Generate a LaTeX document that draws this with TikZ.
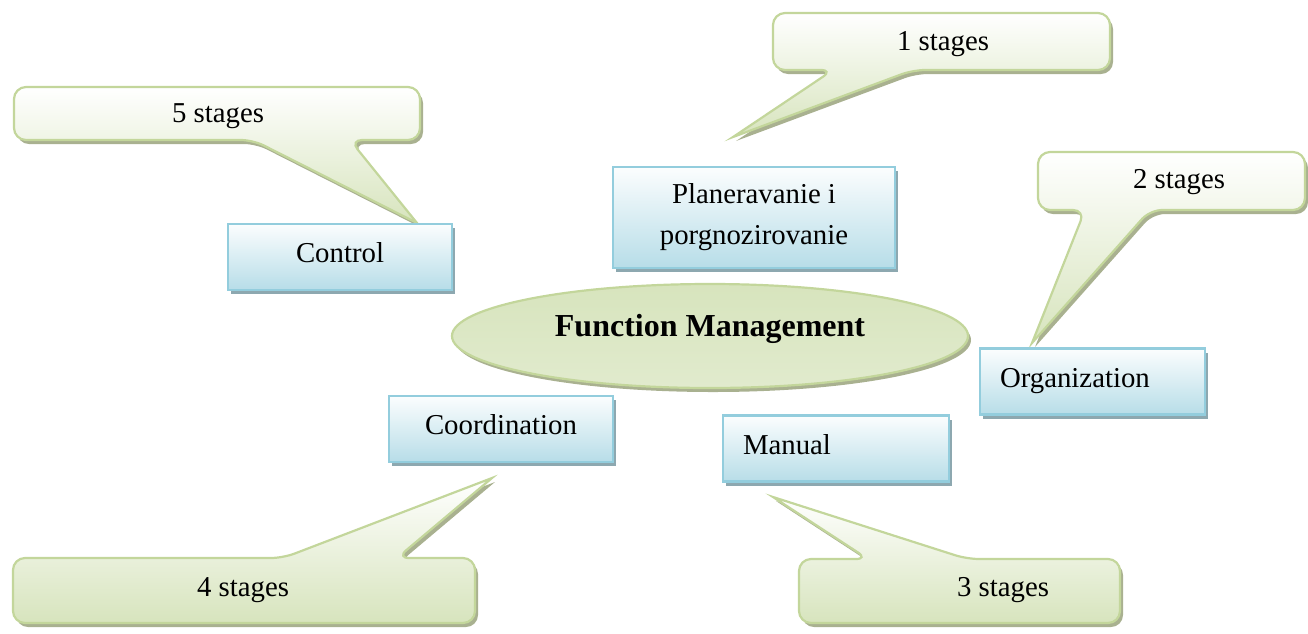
\documentclass[tikz,border=0pt]{standalone}
\usepackage{fontspec}
\setmainfont{Liberation Serif}
\usetikzlibrary{shapes.geometric,shadows}

\definecolor{callline}{HTML}{C3D69B}
\definecolor{callfill}{HTML}{D7E4BD}
\definecolor{callshadow}{HTML}{A9B190}
\definecolor{boxline}{HTML}{93CDDD}
\definecolor{boxfill}{HTML}{B7DDE8}
\definecolor{boxshadow}{HTML}{8DA8B0}

\begin{document}
\begin{tikzpicture}[
            x=1pt,y=-1pt,
            every node/.style={font=\fontsize{28.8}{41}\selectfont},
            callout/.style={draw=callline,line width=2.2pt,top color=white,bottom color=callfill,
                drop shadow={shadow xshift=3pt,shadow yshift=-4pt,fill=callshadow,opacity=1}},
            stage/.style={inner sep=0pt},
            fnbox/.style={draw=boxline,line width=2.2pt,top color=white!95!boxfill,bottom color=boxfill,
                minimum height=66pt,text height=20pt,text depth=9pt,
                drop shadow={shadow xshift=3pt,shadow yshift=-4pt,fill=boxshadow,opacity=1}},
            fnboxl/.style={fnbox,align=left,text width=185pt,inner xsep=20pt}
            ]
            \useasboundingbox (0,0) rectangle (1308,633);
            % callouts
            \draw[callout] (417,223) [rounded corners=12pt] -- (350,140) -- (420,140) -- (420,87) -- (14,87) -- (14,140) -- (253,140) [sharp corners] -- cycle;
            \draw[callout] (733,137) [rounded corners=12pt] -- (913,70) -- (1110,70) -- (1110,13) -- (773,13) -- (773,70) -- (833,70) [sharp corners] -- cycle;
            \draw[callout] (1032,343) [rounded corners=12pt] -- (1150,210) -- (1305,210) -- (1305,152) -- (1038,152) -- (1038,210) -- (1085,210) [sharp corners] -- cycle;
            \draw[callout] (492,478) [rounded corners=12pt] -- (397,558) -- (475,558) -- (475,623) -- (13,623) -- (13,558) -- (283,558) [sharp corners] -- cycle;
            \draw[callout] (773,497) [rounded corners=12pt] -- (967,559) -- (1120,559) -- (1120,623) -- (799,623) -- (799,559) -- (868,559) [sharp corners] -- cycle;
            \node[stage] (s5) at (218,116) {5 stages};
            \node[stage] (s1) at (943,44) {1 stages};
            \node[stage] (s2) at (1179,182) {2 stages};
            \node[stage] (s4) at (243,590) {4 stages};
            \node[stage] (s3) at (1003,590) {3 stages};
            % functions
            \node[fnbox,minimum width=224pt] (control) at (340,257) {Control};
            \node[fnbox,minimum width=282pt,minimum height=101pt,align=center,text height=,text depth=] (plan) at (754,217.5) {Planeravanie i\\porgnozirovanie};
            \node[fnboxl] (org) at (1092.5,381.5) {Organization};
            \node[fnbox,minimum width=224pt] (coord) at (501,429) {Coordination};
            \node[fnboxl,text width=186pt] (manual) at (836,448.5) {Manual};
            % centre
            \node[ellipse,draw=callline,line width=2.2pt,top color=callfill,middle color=callfill!35,bottom color=callfill!75,
                minimum width=516pt,minimum height=104pt,text height=16pt,text depth=16pt,
                font=\fontsize{32}{38}\selectfont\bfseries,
                drop shadow={shadow xshift=3pt,shadow yshift=-4pt,fill=callshadow,opacity=1}] (fm) at (710,336) {Function Management};
        \end{tikzpicture}
\end{document}
